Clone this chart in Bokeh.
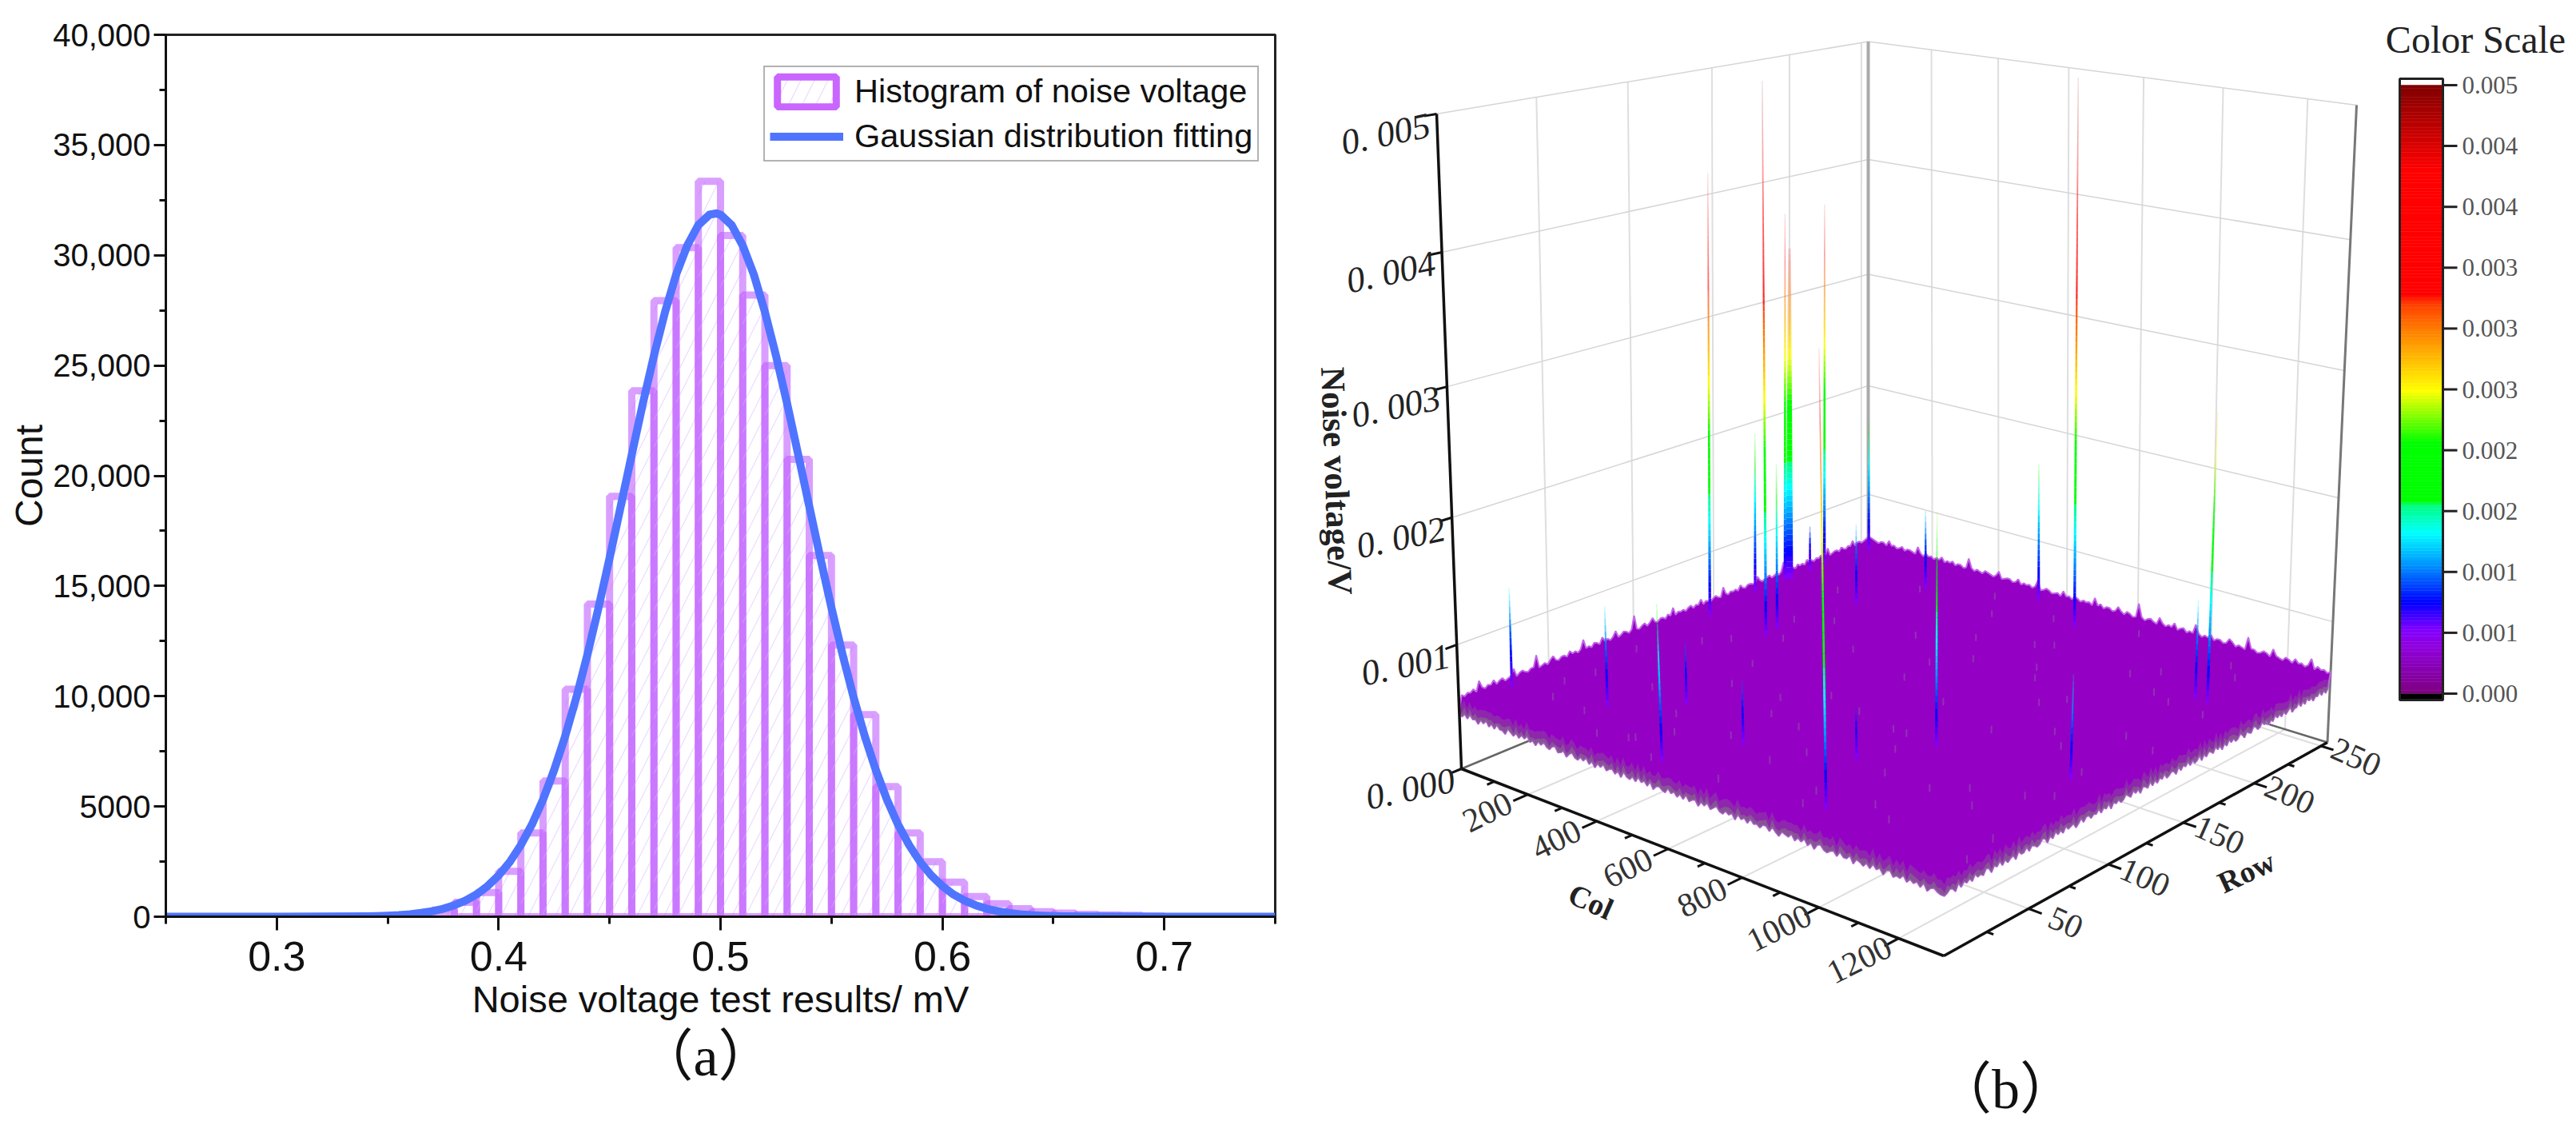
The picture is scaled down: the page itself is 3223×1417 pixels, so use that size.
import numpy as np
from bokeh.plotting import figure
from bokeh.models import (ColumnDataSource, FixedTicker, Legend, LegendItem,
                          NumeralTickFormatter, Range1d, Title)
from bokeh.core.properties import value
from bokeh.layouts import row, column
from bokeh.embed import file_html
from bokeh.resources import INLINE

# ---------------- panel (a) data ----------------
bin_left = [0.36, 0.37, 0.38, 0.39, 0.40, 0.41, 0.42, 0.43, 0.44, 0.45, 0.46, 0.47, 0.48, 0.49,
            0.50, 0.51, 0.52, 0.53, 0.54, 0.55, 0.56, 0.57, 0.58, 0.59, 0.60, 0.61, 0.62, 0.63,
            0.64, 0.65, 0.66, 0.67, 0.68, 0.69]
bin_count = [100, 300, 650, 1100, 2060, 3800, 6160, 10320, 14180, 19070, 23850, 27940, 30340, 33350,
             30900, 28200, 25000, 20740, 16380, 12320, 9170, 5900, 3800, 2490, 1570, 920, 590, 360,
             230, 160, 110, 80, 60, 30]
fit_x = [0.25, 0.30, 0.34, 0.345, 0.35, 0.355, 0.36, 0.365, 0.37, 0.375, 0.38, 0.385, 0.39, 0.395,
         0.40, 0.405, 0.41, 0.415, 0.42, 0.425, 0.43, 0.435, 0.44, 0.445, 0.45, 0.455, 0.46, 0.465,
         0.47, 0.475, 0.48, 0.485, 0.49, 0.495, 0.498, 0.50, 0.505, 0.51, 0.515, 0.52, 0.525, 0.53,
         0.535, 0.54, 0.545, 0.55, 0.555, 0.56, 0.565, 0.57, 0.575, 0.58, 0.585, 0.59, 0.595, 0.60,
         0.605, 0.61, 0.615, 0.62, 0.625, 0.63, 0.635, 0.64, 0.645, 0.65, 0.655, 0.70, 0.75]
fit_y = [0, 0, 20, 30, 50, 70, 110, 170, 250, 360, 520, 730, 1010, 1390,
         1870, 2480, 3250, 4180, 5310, 6650, 8190, 9940, 11890, 14010, 16270, 18610, 20960, 23280,
         25450, 27430, 29130, 30440, 31370, 31840, 31900, 31840, 31370, 30440, 29130, 27430, 25450, 23280,
         20960, 18610, 16270, 14010, 11890, 9940, 8190, 6650, 5310, 4180, 3250, 2480, 1870, 1390,
         1010, 730, 520, 360, 250, 170, 110, 70, 50, 30, 20, 0, 0]
x_major = [0.3, 0.4, 0.5, 0.6, 0.7]
x_minor = [0.25, 0.35, 0.45, 0.55, 0.65, 0.75]
y_major = [0, 5000, 10000, 15000, 20000, 25000, 30000, 35000, 40000]
y_minor = [2500, 7500, 12500, 17500, 22500, 27500, 32500, 37500]

# ---------------- panel (b) data ----------------
col_ticks = [200, 400, 600, 800, 1000, 1200]
col_minor = [100, 300, 500, 700, 900, 1100]
row_ticks = [50, 100, 150, 200, 250]
row_minor = [25, 75, 125, 175, 225]
z_ticks = [0.0, 0.001, 0.002, 0.003, 0.004, 0.005]
z_labels = ["0. 000", "0. 001", "0. 002", "0. 003", "0. 004", "0. 005"]
spike_col = [27, 208, 0, 0, 922, 0, 15, 0, 195, 0, 229, 520, 230, 0, 350, 584, 889, 808, 286, 695, 530, 1174, 1143, 1196]
spike_row = [142, 140, 197, 200, 22, 224, 252, 177, 150, 214, 195, 14, 40, 29, 62, 47, 95, 65, 230, 236, 252, 203, 203, 104]
spike_peak = [0.0042, 0.0050, 0.0037, 0.0034, 0.0038, 0.0037, 0.0017, 0.0019, 0.0019, 0.0009, 0.0012, 0.0017,
              0.0013, 0.0013, 0.0010, 0.0010, 0.0023, 0.0009, 0.0012, 0.0050, 0.0017, 0.0028, 0.0013, 0.0013]
# edge roughness of the noise floor, in units of 1e-5 V
front_rough = [1, -2, 1, -2, 2, -1, 0, -3, 1, -1, 2, -2, 1, -2, 2, -1, -1, -3, 2, 0,
               -2, 1, -2, 1, -1, 2, -2, 0, -3, 1, -1, 2, -1, -2, 1, 2, -2, -1, 1, -3,
               0, 2, -1, -2, 1, -1, 2, -2, 1, -3, 1, -1, 2, -2, 0, 1, -2, 1, -3, 2,
               -1, -2, 1, -2, 2, -1, 1, -2, 2, -3, 0, 1, -1, -2, 2, -1, 1, -2, 1, -2,
               2, -2, 0, 1, -3, 1, -1, 2, -2, 0, 2, -1, -2, 1, -1, 1, -3, 2, -1, 1,
               -2, 2, -1, 0, -2, 1, 1, -2, 2, -1, -3, 1, 0, -1, 2, -2, 1, -1, 2, -2,
               1, -3, 1, 2, -1, -2, 0, 1, -2, 2, -1, -1, 2, -3, 1, 0, -2, 1, -2, 2,
               -1, 1, -3, 1, 2, -2, 0, -1, 2, -2, 1, -1, 1, -2, 2, -3, 0, 1, -1, -2]
back_rough = [1, -1, 1, 0, 2, -1, 7, 1, -1, 1, 0, 3, -1, 1, 2, -1, 0, 1, 6, -1,
              1, 2, 0, -1, 1, 1, 10, -1, 0, 1, -1, 2, 4, 0, -1, 1, 1, -1, 3, 0,
              1, -1, 1, 8, 0, 1, -1, 2, 1, -1, 4, 0, 1, -1, 1, 5, -1, 0, 2, 1,
              -1, 1, 12, 0, -1, 1, 2, -1, 1, 4, 0, -1, 1, 1, -1, 2, 0, 6, -1, 1,
              0, 1, -1, 1, 2, -1, 1, 0, 4, -1, 1, 0, -1, 1, 2, 0, -1, 7, 1, -1,
              1, 0, 1, -1, 3, 0, -1, 1, 1, 0, -1, 5, 1, -1, 0, 1, 2, -1, 0, 1,
              -1, 1, 9, 0, -1, 1, 1, -1, 2, 0, 1, -1, 3, 0, 1, -1, 1, 0, 2, -1,
              1, 6, -1, 0, 1, 1, -1, 2, 0, -1, 1, 0, 4, -1, 1, 1, -1, 0, 1, 2]
fleck_col = [120, 240, 310, 405, 470, 530, 610, 690, 740, 810, 880, 950, 1020, 1090, 1150, 1230,
             150, 330, 420, 560, 640, 720, 790, 860, 930, 1010, 1080, 1160, 1260, 60,
             200, 290, 380, 500, 580, 660, 760, 840, 990, 1120, 1200, 1280, 90, 260, 450, 620,
             75, 175, 355, 445, 515, 595, 675, 775, 825, 905, 965, 1055, 1105, 1185, 1245, 35,
             135, 275, 395, 545, 705, 845, 1035, 1135, 1215, 225, 485, 655, 915, 1065]
fleck_row = [30, 64, 110, 22, 180, 75, 140, 40, 210, 95, 18, 165, 60, 125, 230, 85,
             200, 15, 150, 105, 235, 55, 185, 30, 120, 215, 70, 150, 40, 90,
             160, 225, 50, 12, 195, 100, 130, 245, 35, 190, 110, 20, 60, 140, 240, 72,
             45, 125, 88, 36, 222, 160, 14, 95, 175, 60, 205, 28, 240, 78, 145, 215,
             115, 170, 20, 48, 205, 80, 135, 58, 188, 28, 90, 175, 155, 195]
bar_tick_values = [0.005, 0.0045, 0.004, 0.0035, 0.003, 0.0025, 0.002, 0.0015, 0.001, 0.0005, 0.0]
bar_tick_labels = ["0.005", "0.004", "0.004", "0.003", "0.003", "0.003", "0.002", "0.002", "0.001", "0.001", "0.000"]
cmap_values = [0.0, 0.0004, 0.00053, 0.00075, 0.00105, 0.00132, 0.00155, 0.00158, 0.00206, 0.00249, 0.00298, 0.0032, 0.00328, 0.0043, 0.005]
cmap_colors = ["#800080", "#8f00e0", "#8000ff", "#0000ff", "#0090ff", "#00ffff", "#00ff80", "#00ff00", "#00ff00",
               "#ffff00", "#ff8000", "#ff4000", "#ff0000", "#ff0000", "#800000"]

# ---------------- panel (a) ----------------
SANS = "Liberation Sans"
SERIF = "Liberation Serif"
pa = figure(width=1600, height=1410, output_backend="svg", toolbar_location=None,
            x_range=Range1d(0.25, 0.75), y_range=Range1d(0, 40000),
            min_border_left=207, min_border_right=5, min_border_top=43, min_border_bottom=264,
            x_axis_label="Noise voltage test results/ mV", y_axis_label="Count")
pa.grid.visible = False
pa.outline_line_color = "#222222"
pa.outline_line_width = 3
for ax in (pa.xaxis[0], pa.yaxis[0]):
    ax.axis_line_color = "#111111"
    ax.axis_line_width = 3
    ax.major_tick_line_color = "#111111"
    ax.major_tick_line_width = 3
    ax.minor_tick_line_color = "#111111"
    ax.minor_tick_line_width = 3
    ax.major_tick_in = 0
    ax.minor_tick_in = 0
    ax.major_label_text_font = SANS
    ax.axis_label_text_font = SANS
    ax.axis_label_text_font_style = "normal"
    ax.major_label_text_color = "#111111"
    ax.axis_label_text_color = "#111111"
pa.xaxis[0].ticker = FixedTicker(ticks=x_major, minor_ticks=x_minor)
pa.yaxis[0].ticker = FixedTicker(ticks=y_major, minor_ticks=y_minor)
pa.xaxis[0].formatter = NumeralTickFormatter(format="0.0")
pa.yaxis[0].formatter = NumeralTickFormatter(format="0,0")
pa.yaxis[0].major_label_overrides = {0: "0", 5000: "5000"}
pa.xaxis[0].major_tick_out = 17
pa.xaxis[0].minor_tick_out = 9
pa.yaxis[0].major_tick_out = 15
pa.yaxis[0].minor_tick_out = 8
pa.xaxis[0].major_label_text_font_size = "52px"
pa.yaxis[0].major_label_text_font_size = "40px"
pa.xaxis[0].axis_label_text_font_size = "47px"
pa.yaxis[0].axis_label_text_font_size = "48px"
pa.xaxis[0].major_label_standoff = 14
pa.yaxis[0].major_label_standoff = 4
pa.xaxis[0].axis_label_standoff = 6
pa.yaxis[0].axis_label_standoff = 0

BIN = 0.01
bl = np.array(bin_left)
HATCH = dict(hatch_pattern="right_diagonal_line", hatch_color="#eedcff", hatch_weight=1.3, hatch_scale=34)
bars = pa.quad(left=bl, right=bl + BIN, bottom=0, top=bin_count,
               fill_alpha=0, line_color="#bf5fff", line_alpha=0.6, line_width=9, **HATCH)
# a bar beyond the axis range carries the stronger legend style of the reference
legend_box = pa.quad(left=[2.0], right=[2.1], bottom=[0], top=[1], fill_alpha=0, line_color="#c966ff", line_width=9, **HATCH)
fit = pa.line(fit_x, fit_y, line_color="#4f74ff", line_width=10, line_join="round")
legend = Legend(items=[LegendItem(label="Histogram of noise voltage", renderers=[legend_box]),
                       LegendItem(label="Gaussian distribution fitting", renderers=[fit])],
                location=(748, 944), glyph_width=92, glyph_height=47, spacing=8, padding=6,
                margin=0, label_standoff=14, label_text_font=SANS, label_text_font_size="41.5px",
                label_text_color="#111111", label_height=47,
                border_line_color="#666666", border_line_width=2, background_fill_alpha=0)
pa.add_layout(legend, "center")
pa.add_layout(Title(text="（a）", text_font=SERIF + ", Noto Sans CJK SC", text_font_size="70px",
                    text_font_style="normal", text_color="#111111", align="left", offset=590, standoff=5), "below")

# ---------------- panel (b): projection of (col, row, z) on the picture ----------------
COL_MAX, ROW_MAX, Z_MAX = 1310.0, 255.0, 0.005
FLOOR = [(1828, 961), (2431.5, 1195), (2911.5, 928), (2337, 750)]
TOP = [(1797, 142), (2440, 270), (2948, 131), (2337, 51.5)]
Z_PERSP = 0.934


def homography(q):
    (x0, y0), (x1, y1), (x2, y2), (x3, y3) = q
    dx1, dx2, sx = x1 - x2, x3 - x2, x0 - x1 + x2 - x3
    dy1, dy2, sy = y1 - y2, y3 - y2, y0 - y1 + y2 - y3
    det = dx1 * dy2 - dx2 * dy1
    g = (sx * dy2 - dx2 * sy) / det
    h = (dx1 * sy - sx * dy1) / det
    a, b, c = x1 - x0 + g * x1, x3 - x0 + h * x3, x0
    d, e, f = y1 - y0 + g * y1, y3 - y0 + h * y3, y0

    def m(u, v):
        w = g * u + h * v + 1
        return (a * u + b * v + c) / w, (d * u + e * v + f) / w
    return m


H_FLOOR, H_TOP = homography(FLOOR), homography(TOP)


def proj(col, r, z):
    col, r, z = np.asarray(col, float), np.asarray(r, float), np.asarray(z, float)
    u, v, w = col / COL_MAX, r / ROW_MAX, z / Z_MAX
    w = Z_PERSP * w / (1 + (Z_PERSP - 1) * w)
    x0, y0 = H_FLOOR(u, v)
    x1, y1 = H_TOP(u, v)
    return x0 + (x1 - x0) * w, y0 + (y1 - y0) * w


def colour_of(z):
    z = np.clip(z, 0, Z_MAX)
    rgb = np.array([[int(c[i:i + 2], 16) for i in (1, 3, 5)] for c in cmap_colors], float)
    vals = [np.interp(z, cmap_values, rgb[:, k]) for k in range(3)]
    return "#%02x%02x%02x" % tuple(int(round(float(c))) for c in vals)


def seg(p, a, b, **kw):
    xs, ys = [], []
    for s, e in zip(a, b):
        xa, ya = proj(*s)
        xb, yb = proj(*e)
        xs.append([float(xa), float(xb)])
        ys.append([float(ya), float(yb)])
    p.multi_line(xs, ys, **kw)


pb = figure(width=1620, height=1410, output_backend="svg", toolbar_location=None,
            x_range=Range1d(1600, 3220), y_range=Range1d(1410, 0),
            x_axis_type=None, y_axis_type=None, min_border=0, outline_line_color=None)
pb.grid.visible = False

GRID = dict(line_color="#dedede", line_width=2)
THIN = dict(line_color="#d5d5d5", line_width=1.5)
# walls
seg(pb, [(c, ROW_MAX, 0) for c in col_ticks], [(c, ROW_MAX, Z_MAX) for c in col_ticks], **GRID)
seg(pb, [(0, r, 0) for r in row_ticks], [(0, r, Z_MAX) for r in row_ticks], **GRID)
seg(pb, [(0, ROW_MAX, z) for z in z_ticks[1:]], [(COL_MAX, ROW_MAX, z) for z in z_ticks[1:]], **THIN)
seg(pb, [(0, 0, z) for z in z_ticks[1:]], [(0, ROW_MAX, z) for z in z_ticks[1:]], **THIN)
# floor
seg(pb, [(c, 0, 0) for c in col_ticks], [(c, ROW_MAX, 0) for c in col_ticks], **GRID)
seg(pb, [(0, r, 0) for r in row_ticks], [(COL_MAX, r, 0) for r in row_ticks], **GRID)
seg(pb, [(0, 0, 0), (0, ROW_MAX, 0)], [(0, ROW_MAX, 0), (COL_MAX, ROW_MAX, 0)], line_color="#666666", line_width=2.5)
# wall corners
seg(pb, [(0, ROW_MAX, 0)], [(0, ROW_MAX, Z_MAX)], line_color="#aaaaaa", line_width=4)
seg(pb, [(COL_MAX, ROW_MAX, 0)], [(COL_MAX, ROW_MAX, Z_MAX)], line_color="#777777", line_width=3)

# noise floor
Z_LOW, Z_HIGH, Z_BASE = 0.00045, 0.00058, 0.0005
fr = np.array(front_rough) * 1e-5
bk = np.array(back_rough) * 1e-5
n = len(fr)
t = np.arange(n) / n
front_c = np.concatenate([t * COL_MAX, np.full(n, COL_MAX)])
front_r = np.concatenate([np.zeros(n), t * ROW_MAX])
front_z = Z_LOW + np.concatenate([fr, fr[::-1]])
back_c = np.concatenate([np.full(n, COL_MAX) * (1 - t), np.zeros(n)])
back_r = np.concatenate([np.full(n, ROW_MAX), (1 - t) * ROW_MAX])
back_z = Z_HIGH + np.concatenate([bk, bk[::-1]])
sx, sy = proj(np.concatenate([front_c, back_c]), np.concatenate([front_r, back_r]), np.concatenate([front_z, back_z]))
pb.patch(sx, sy, fill_color="#9400c4", line_color="#c266e8", line_width=2)
# grey-mauve fringe along the two front edges
for lift, alpha in ((0.00004, 0.8), (0.00010, 0.4)):
    x_lo, y_lo = proj(front_c, front_r, front_z)
    x_hi, y_hi = proj(front_c, front_r, front_z + lift + np.roll(np.concatenate([fr, fr[::-1]]), 7) * 0.8)
    pb.patch(np.concatenate([x_lo, x_hi[::-1]]), np.concatenate([y_lo, y_hi[::-1]]),
             fill_color="#85608f", fill_alpha=alpha, line_color=None)
# flecks on the floor
fx0, fy0 = proj(fleck_col, fleck_row, np.full(len(fleck_col), Z_BASE))
fx1, fy1 = proj(fleck_col, fleck_row, np.full(len(fleck_col), Z_BASE + 0.00006))
pb.segment(fx0, fy0, fx1, fy1, line_color="#8f6f9f", line_alpha=0.45, line_width=2)

# spikes, rear ones first
DZ = 0.00005
WIDE = {3: 9}
src = dict(x0=[], y0=[], x1=[], y1=[], c=[], a=[], w=[])
for i in np.argsort(-np.array(spike_row)):
    c_, r_, pk = spike_col[i], spike_row[i], spike_peak[i]
    base_w = WIDE.get(int(i), 3.4)
    z = Z_BASE
    while z < pk:
        frac = (z - Z_BASE) / (pk - Z_BASE)
        xa, ya = proj(c_, r_, z)
        xb, yb = proj(c_, r_, min(z + DZ, pk))
        src["x0"].append(float(xa)); src["y0"].append(float(ya))
        src["x1"].append(float(xb)); src["y1"].append(float(yb))
        src["c"].append(colour_of(z + DZ / 2))
        src["a"].append(float(min(1.0, 0.1 + (1 - frac) / 0.5)))
        src["w"].append(float(base_w * (1 - 0.6 * frac)))
        z += DZ
pb.segment("x0", "y0", "x1", "y1", source=ColumnDataSource(src), line_color="c", line_alpha="a", line_width="w")

# axes
AX = dict(line_color="#111111")
seg(pb, [(0, 0, 0), (COL_MAX, 0, 0)], [(COL_MAX, 0, 0), (COL_MAX, ROW_MAX, 0)], line_width=3.5, **AX)
seg(pb, [(0, 0, 0)], [(0, 0, Z_MAX)], line_width=3.5, **AX)
seg(pb, [(c, 0, 0) for c in col_ticks], [(c, -8, 0) for c in col_ticks], line_width=3, **AX)
seg(pb, [(c, 0, 0) for c in col_minor], [(c, -4, 0) for c in col_minor], line_width=3, **AX)
seg(pb, [(COL_MAX, r, 0) for r in row_ticks], [(COL_MAX + 32, r, 0) for r in row_ticks], line_width=3, **AX)
seg(pb, [(COL_MAX, r, 0) for r in row_minor], [(COL_MAX + 16, r, 0) for r in row_minor], line_width=3, **AX)
seg(pb, [(0, 0, z) for z in z_ticks], [(0, -6, z) for z in z_ticks], line_width=3, **AX)

SERIF_V = value(SERIF)
tx, ty = proj(col_ticks, np.full(len(col_ticks), -22), np.zeros(len(col_ticks)))
pb.text(tx, ty, text=[str(c) for c in col_ticks], text_font=SERIF_V, text_font_size="42px", text_color="#333333",
        angle=26, angle_units="deg", text_align="center", text_baseline="middle")
tx, ty = proj(np.full(len(row_ticks), COL_MAX + 90), row_ticks, np.zeros(len(row_ticks)))
pb.text(tx, ty, text=[str(r) for r in row_ticks], text_font=SERIF_V, text_font_size="42px", text_color="#333333",
        angle=-24, angle_units="deg", text_align="center", text_baseline="middle")
tx, ty = proj(np.zeros(len(z_ticks)), np.zeros(len(z_ticks)), z_ticks)
pb.text(tx - 64, ty + 25, text=z_labels, text_font=SERIF_V, text_font_size="45px", text_font_style="italic",
        text_color="#222222", angle=12, angle_units="deg", text_align="center", text_baseline="middle")
pb.text([1672], [601], text=["Noise voltage/V"], text_font=SERIF_V, text_font_size="43px", text_font_style="bold",
        text_color="#222222", angle=-88, angle_units="deg", text_align="center", text_baseline="middle")
pb.text([1990], [1127], text=["Col"], text_font=SERIF_V, text_font_size="38px", text_font_style="bold",
        text_color="#222222", angle=-24, angle_units="deg", text_align="center", text_baseline="middle")
pb.text([2810], [1090], text=["Row"], text_font=SERIF_V, text_font_size="38px", text_font_style="bold",
        text_color="#222222", angle=25, angle_units="deg", text_align="center", text_baseline="middle")

# colour scale
CB_L, CB_R, CB_Y0, CB_Y1 = 3002.0, 3056.0, 867.0, 106.0


def cb_y(v):
    return CB_Y0 - np.asarray(v, float) / Z_MAX * (CB_Y0 - CB_Y1)


levels = np.arange(0, 200) * Z_MAX / 200
cb_cols = [colour_of(v + Z_MAX / 400) for v in levels]
pb.quad(left=CB_L, right=CB_R, bottom=cb_y(levels), top=cb_y(levels + Z_MAX / 200),
        fill_color=cb_cols, line_color=cb_cols, line_width=0.5)
pb.quad(left=[CB_L], right=[CB_R], bottom=[CB_Y0 + 8], top=[CB_Y0], fill_color="#000000", line_color=None)
pb.quad(left=[CB_L], right=[CB_R], bottom=[CB_Y0 + 8], top=[CB_Y1 - 8], fill_alpha=0, line_color="#222222", line_width=3)
ty = cb_y(bar_tick_values)
pb.segment(np.full(len(ty), CB_R), ty, np.full(len(ty), CB_R + 18), ty, line_color="#222222", line_width=3)
pb.text(np.full(len(ty), CB_R + 24), ty, text=bar_tick_labels, text_font=SERIF_V, text_font_size="31px",
        text_color="#555555", text_align="left", text_baseline="middle")
pb.text([3097], [49], text=["Color Scale"], text_font=SERIF_V, text_font_size="48px", text_color="#222222",
        text_align="center", text_baseline="middle")
pb.text([2509], [1362], text=["（b）"], text_font=value(SERIF + ", Noto Sans CJK SC"), text_font_size="70px",
        text_color="#111111", text_align="center", text_baseline="middle")

page = row(column(pa), column(pb), spacing=0)
open("out.html", "w").write(file_html(page, INLINE))
